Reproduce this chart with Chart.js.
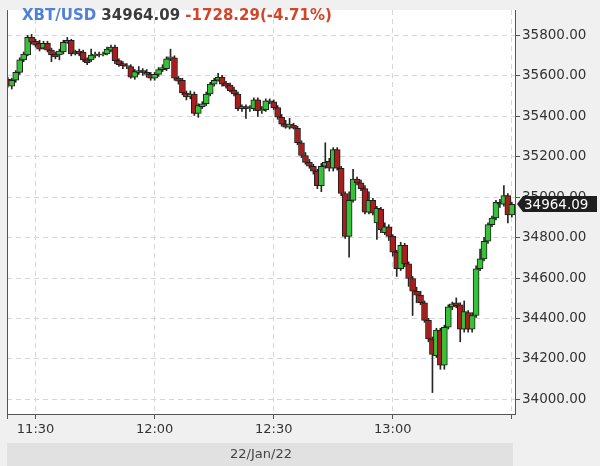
<!DOCTYPE html>
<html>
<head>
<meta charset="utf-8">
<script src="https://cdn.jsdelivr.net/npm/chart.js@4.4.1/dist/chart.umd.min.js"></script>
<style>
html, body { margin: 0; padding: 0; background: #f0f0f0; }
#wrap { width: 600px; height: 466px; }
</style>
</head>
<body>
<div id="wrap"><canvas id="chart" width="600" height="466"></canvas></div>
<script>
const symbol = 'XBT/USD';
const lastPrice = '34964.09';
const change = '-1728.29(-4.71%)';
const dateLabel = '22/Jan/22';

// one-minute candles, 11:23 .. 13:30
const times = [
    '11:23','11:24','11:25','11:26','11:27','11:28','11:29',
    '11:30','11:31','11:32','11:33','11:34','11:35','11:36','11:37','11:38','11:39',
    '11:40','11:41','11:42','11:43','11:44','11:45','11:46','11:47','11:48','11:49',
    '11:50','11:51','11:52','11:53','11:54','11:55','11:56','11:57','11:58','11:59',
    '12:00','12:01','12:02','12:03','12:04','12:05','12:06','12:07','12:08','12:09',
    '12:10','12:11','12:12','12:13','12:14','12:15','12:16','12:17','12:18','12:19',
    '12:20','12:21','12:22','12:23','12:24','12:25','12:26','12:27','12:28','12:29',
    '12:30','12:31','12:32','12:33','12:34','12:35','12:36','12:37','12:38','12:39',
    '12:40','12:41','12:42','12:43','12:44','12:45','12:46','12:47','12:48','12:49',
    '12:50','12:51','12:52','12:53','12:54','12:55','12:56','12:57','12:58','12:59',
    '13:00','13:01','13:02','13:03','13:04','13:05','13:06','13:07','13:08','13:09',
    '13:10','13:11','13:12','13:13','13:14','13:15','13:16','13:17','13:18','13:19',
    '13:20','13:21','13:22','13:23','13:24','13:25','13:26','13:27','13:28','13:29',
    '13:30'
];

const open = [
    35583, 35549, 35578, 35617, 35679, 35703, 35790,
    35771, 35761, 35737, 35761, 35727, 35708, 35703, 35718, 35766, 35776,
    35708, 35723, 35718, 35679, 35679, 35699, 35708, 35703, 35708, 35727,
    35742, 35675, 35660, 35646, 35646, 35593, 35617, 35626, 35617, 35607,
    35588, 35607, 35631, 35636, 35684, 35689, 35588, 35578, 35515, 35496,
    35510, 35414, 35448, 35462, 35510, 35559, 35578, 35593, 35564, 35554,
    35530, 35510, 35438, 35448, 35438, 35438, 35481, 35428, 35433, 35477,
    35472, 35443, 35395, 35361, 35346, 35356, 35341, 35269, 35206, 35172,
    35153, 35129, 35057, 35153, 35177, 35143, 35235, 35143, 35018, 34806,
    34984, 35090, 35071, 35042, 34926, 34984, 34873, 34941, 34825, 34854,
    34806, 34728, 34646, 34762, 34670, 34598, 34535, 34516, 34478, 34391,
    34299, 34217, 34343, 34169, 34357, 34458, 34478, 34468, 34348, 34430,
    34348, 34415, 34646, 34695, 34782, 34864, 34897, 34975, 34965, 35008,
    34912
];

const high = [
    35593, 35588, 35626, 35689, 35718, 35800, 35805,
    35781, 35776, 35771, 35771, 35737, 35718, 35732, 35776, 35790, 35781,
    35727, 35732, 35727, 35689, 35732, 35718, 35718, 35718, 35742, 35752,
    35752, 35684, 35670, 35660, 35655, 35631, 35646, 35636, 35631, 35617,
    35617, 35641, 35655, 35694, 35732, 35699, 35597, 35588, 35525, 35525,
    35520, 35462, 35472, 35520, 35568, 35588, 35612, 35602, 35573, 35564,
    35544, 35520, 35457, 35457, 35453, 35491, 35491, 35448, 35486, 35486,
    35481, 35453, 35409, 35380, 35390, 35366, 35351, 35279, 35221, 35187,
    35163, 35138, 35167, 35269, 35192, 35245, 35245, 35153, 35027, 35027,
    35138, 35100, 35085, 35057, 35027, 34994, 34955, 34950, 34873, 34864,
    34815, 34738, 34777, 34772, 34680, 34608, 34555, 34535, 34487, 34401,
    34309, 34352, 34352, 34367, 34468, 34482, 34502, 34478, 34487, 34439,
    34430, 34661, 34743, 34801, 34873, 34907, 34984, 34989, 35057, 35018,
    34975
];

const low = [
    35544, 35535, 35568, 35607, 35670, 35699, 35757,
    35742, 35723, 35732, 35718, 35670, 35684, 35679, 35708, 35761, 35699,
    35703, 35699, 35670, 35655, 35670, 35689, 35694, 35699, 35703, 35718,
    35660, 35646, 35636, 35636, 35588, 35583, 35607, 35602, 35593, 35578,
    35578, 35597, 35621, 35626, 35675, 35578, 35559, 35506, 35481, 35486,
    35404, 35395, 35438, 35453, 35501, 35549, 35573, 35549, 35539, 35520,
    35501, 35428, 35424, 35390, 35424, 35428, 35399, 35414, 35424, 35462,
    35433, 35385, 35351, 35341, 35337, 35337, 35259, 35196, 35163, 35143,
    35114, 35042, 35027, 35143, 35129, 35129, 35134, 35008, 34796, 34704,
    34975, 35061, 35032, 34917, 34917, 34912, 34791, 34825, 34815, 34786,
    34709, 34608, 34637, 34656, 34559, 34415, 34478, 34468, 34381, 34285,
    34034, 34207, 34149, 34149, 34348, 34444, 34453, 34285, 34333, 34333,
    34333, 34405, 34637, 34685, 34772, 34854, 34888, 34950, 34955, 34873,
    34902
];

const close = [
    35554, 35578, 35617, 35679, 35708, 35790, 35766,
    35752, 35732, 35761, 35727, 35703, 35694, 35723, 35766, 35776, 35708,
    35718, 35708, 35679, 35665, 35703, 35708, 35703, 35708, 35732, 35742,
    35675, 35655, 35650, 35650, 35593, 35621, 35626, 35617, 35607, 35588,
    35607, 35631, 35641, 35684, 35694, 35588, 35573, 35515, 35496, 35510,
    35414, 35453, 35462, 35510, 35559, 35578, 35593, 35559, 35549, 35525,
    35510, 35438, 35448, 35438, 35443, 35481, 35428, 35433, 35477, 35472,
    35443, 35395, 35361, 35346, 35361, 35341, 35269, 35206, 35172, 35153,
    35129, 35057, 35153, 35172, 35143, 35235, 35143, 35018, 34806, 34984,
    35090, 35071, 35042, 34926, 34984, 34921, 34945, 34839, 34854, 34806,
    34728, 34646, 34762, 34670, 34598, 34535, 34516, 34478, 34391, 34299,
    34222, 34343, 34169, 34357, 34458, 34473, 34463, 34348, 34434, 34348,
    34415, 34646, 34695, 34782, 34864, 34897, 34975, 34965, 35008, 34912,
    34964.09
];

const priceTicks = [34000, 34200, 34400, 34600, 34800, 35000, 35200, 35400, 35600, 35800];
const timeTicks = ['11:30', '12:00', '12:30', '13:00', '13:30'];

const toMin = s => {
    const [h, m] = s.split(':').map(Number);
    return h * 60 + m;
};
const fmtMin = v => {
    const h = Math.floor(v / 60), m = v % 60;
    return h + ':' + String(m).padStart(2, '0');
};

const upColor = '#36c236';
const downColor = '#a81e1c';
const outline = '#1e1e1e';

const bodies = times.map((t, i) => ({ x: toMin(t), y: [open[i], close[i]] }));
const wicks = times.map((t, i) => ({ x: toMin(t), y: [low[i], high[i]] }));
const bodyColors = close.map((c, i) => c >= open[i] ? upColor : downColor);

const frame = {
    id: 'frame',
    beforeDraw(chart) {
        const { ctx, chartArea: a, width, height } = chart;
        ctx.save();
        ctx.fillStyle = '#f0f0f0';
        ctx.fillRect(0, 0, width, height);
        ctx.fillStyle = '#ffffff';
        ctx.fillRect(a.left, a.top, a.right - a.left, a.bottom - a.top);

        // date strip under the time axis
        ctx.fillStyle = '#e1e1e1';
        ctx.fillRect(a.left, 443, a.right - a.left - 2, height - 443);
        ctx.fillStyle = '#444';
        ctx.font = '13px "DejaVu Sans"';
        ctx.textAlign = 'center';
        ctx.textBaseline = 'middle';
        ctx.fillText(dateLabel, (a.left + a.right) / 2, 455);
        ctx.restore();
    },
    afterDraw(chart) {
        const { ctx, chartArea: a } = chart;
        ctx.save();

        // left border of the plot
        ctx.strokeStyle = '#555';
        ctx.lineWidth = 1;
        ctx.beginPath();
        ctx.moveTo(a.left + 0.5, a.top);
        ctx.lineTo(a.left + 0.5, a.bottom + 5);
        ctx.stroke();

        // title line
        ctx.font = 'bold 15px "DejaVu Sans"';
        ctx.textAlign = 'left';
        ctx.textBaseline = 'alphabetic';
        let x = 22;
        const parts = [[symbol, '#4f82d6'], [lastPrice, '#3c3c3c'], [change, '#d2452a']];
        parts.forEach(([txt, col]) => {
            ctx.fillStyle = col;
            ctx.fillText(txt, x, 20);
            x += ctx.measureText(txt + ' ').width;
        });

        // last price tag
        const y = Math.round(chart.scales.y.getPixelForValue(close[close.length - 1]));
        const x0 = a.right + 2;
        ctx.fillStyle = '#1f1f1f';
        ctx.beginPath();
        ctx.moveTo(x0, y);
        ctx.lineTo(x0 + 6, y - 8);
        ctx.lineTo(597, y - 8);
        ctx.lineTo(597, y + 8);
        ctx.lineTo(x0 + 6, y + 8);
        ctx.closePath();
        ctx.fill();
        ctx.fillStyle = '#ffffff';
        ctx.font = '13.5px "DejaVu Sans"';
        ctx.textBaseline = 'middle';
        ctx.fillText(lastPrice, x0 + 7, y + 1);
        ctx.restore();
    }
};

new Chart(document.getElementById('chart').getContext('2d'), {
    type: 'bar',
    data: {
        datasets: [{
            label: 'body',
            data: bodies,
            backgroundColor: bodyColors,
            borderColor: outline,
            borderWidth: 1,
            borderSkipped: false,
            barThickness: 6,
            minBarLength: 1,
            grouped: false,
            order: 0
        }, {
            label: 'wick',
            data: wicks,
            backgroundColor: '#262626',
            borderWidth: 0,
            barThickness: 1,
            grouped: false,
            order: 1
        }]
    },
    options: {
        responsive: false,
        animation: false,
        layout: { padding: { left: 7, top: 0, right: 0, bottom: 0 } },
        plugins: {
            legend: { display: false },
            tooltip: { enabled: false }
        },
        scales: {
            x: {
                type: 'linear',
                min: 682.8,
                max: 810.8,
                offset: false,
                afterBuildTicks: scale => {
                    scale.ticks = timeTicks.map(t => ({ value: toMin(t) }));
                },
                afterFit: scale => { scale.height = 52; },
                grid: {
                    offset: false,
                    color: '#d6d6d6',
                    tickColor: '#555',
                    tickLength: 5,
                    tickBorderDash: []
                },
                border: { color: '#555', dash: [5, 4] },
                ticks: {
                    color: '#333',
                    font: { family: 'DejaVu Sans', size: 13 },
                    padding: 3,
                    maxRotation: 0,
                    autoSkip: false,
                    callback: v => v >= toMin('13:30') ? '' : fmtMin(v)
                }
            },
            y: {
                position: 'right',
                min: 33928,
                max: 35925,
                afterBuildTicks: scale => {
                    scale.ticks = priceTicks.map(v => ({ value: v }));
                },
                afterFit: scale => { scale.width = 85; },
                grid: {
                    color: '#d6d6d6',
                    tickColor: '#555',
                    tickLength: 5,
                    tickBorderDash: []
                },
                border: { color: '#555', dash: [5, 4] },
                ticks: {
                    color: '#333',
                    font: { family: 'DejaVu Sans', size: 13.5 },
                    padding: 2,
                    callback: v => v.toFixed(2)
                }
            }
        }
    },
    plugins: [frame]
});
</script>
</body>
</html>
